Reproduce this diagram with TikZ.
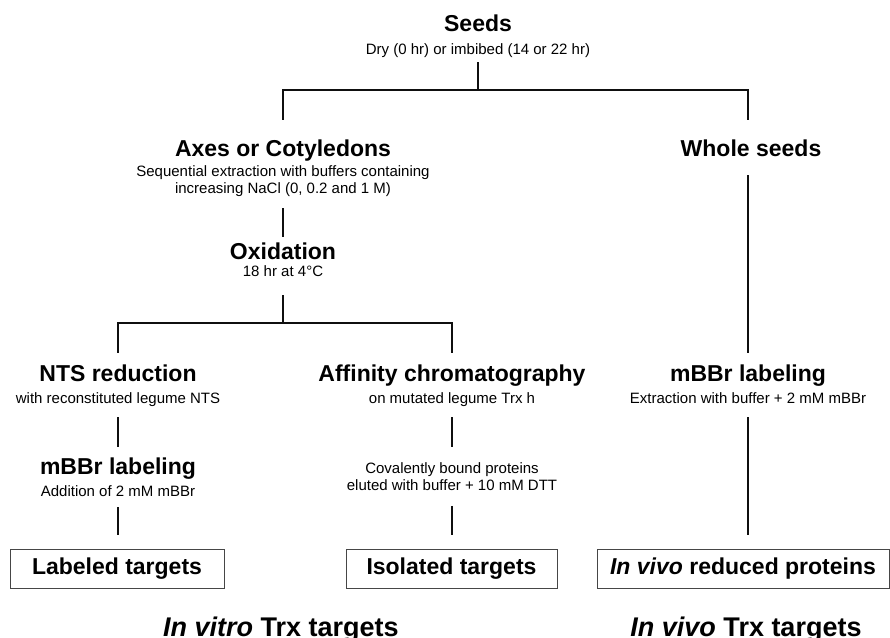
\documentclass[tikz,border=0pt]{standalone}
\usepackage{fontspec}
\setmainfont{Liberation Sans}
\usepackage{tikz}
\usetikzlibrary{positioning, calc}
\definecolor{LinkBlack} {RGB}{15,  15,  15}
\definecolor{BoxGray}   {RGB}{70,  70,  70}

\begin{document}
\begin{tikzpicture}[
  x=1pt, y=-1pt,
  head/.style = {
    font=\fontsize{23}{27}\selectfont\bfseries,
    inner sep=0pt, anchor=base,
    text height=17pt, text depth=5pt
  },
  note/.style = {
    font=\fontsize{15}{17}\selectfont,
    inner sep=0pt, anchor=base,
    text height=11pt, text depth=3.5pt
  },
  notes/.style = {
    font=\fontsize{15}{17}\selectfont,
    inner sep=0pt, anchor=north, align=center
  },
  target/.style = {
    rectangle, draw=BoxGray, line width=1pt,
    minimum height=39pt, inner sep=0pt,
    font=\fontsize{23}{27}\selectfont\bfseries
  },
  group/.style = {
    font=\fontsize{27}{31}\selectfont\bfseries,
    inner sep=0pt, anchor=base
  },
  link/.style = {line width=1.8pt, color=LinkBlack}
]
\useasboundingbox (0,0) rectangle (890,637);

% Seeds
\node[head] (seeds) at (478,31) {Seeds};
\node[note] (seedsnote) at (478,54) {Dry (0 hr) or imbibed (14 or 22 hr)};
\coordinate (split1) at (478,90);

\draw[link, shorten <=4.5pt] (seedsnote.south) -- (split1);
\draw[link, shorten >=19pt] (split1) -| (283,139);
\draw[link, shorten >=19pt] (split1) -| (748,139);

% Axes or Cotyledons
\node[head] (axes) at (283,156) {Axes or Cotyledons};
\node[notes] (extract) at (283,165)
  {Sequential extraction with buffers containing\\increasing NaCl (0, 0.2 and 1 M)};

% Whole seeds
\node[head] (whole) at (751,156) {Whole seeds};

% Oxidation
\node[head] (oxid) at (283,259) {Oxidation};
\node[note] (oxidnote) at (283,276) {18 hr at 4°C};
\coordinate (split2) at (283,323);

\draw[link, shorten <=12pt, shorten >=5pt] (extract.south) -- (oxid.north);
\draw[link, shorten <=15.5pt] (oxidnote.south) -- (split2);

% NTS branch
\node[head] (nts) at (118,381) {NTS reduction};
\node[note] (ntsnote) at (118,403) {with reconstituted legume NTS};
\node[head] (mbbrvitro) at (118,474.5) {mBBr labeling};
\node[note] (vitronote) at (118,496) {Addition of 2 mM mBBr};

% Affinity branch
\node[head] (affin) at (452,381) {Affinity chromatography};
\node[note] (affinnote) at (452,403) {on mutated legume Trx h};
\node[notes] (elute) at (452,462)
  {Covalently bound proteins\\eluted with buffer + 10 mM DTT};

% In vivo branch
\node[head] (mbbrvivo) at (748,381) {mBBr labeling};
\node[note] (vivonote) at (748,403) {Extraction with buffer + 2 mM mBBr};

\draw[link, shorten >=11pt] (split2) -| (nts.north);
\draw[link, shorten >=11pt] (split2) -| (affin.north);
\draw[link, shorten <=14pt, shorten >=11pt] (mbbrvivo.north |- whole.south) -- (mbbrvivo.north);

\draw[link, shorten <=10.5pt, shorten >=10.5pt] (ntsnote.south) -- (mbbrvitro.north);
\draw[link, shorten <=10.5pt, shorten >=15pt] (affinnote.south) -- (elute.north);

% Targets
\node[target, minimum width=214pt] (labeled) at (117,568.5) {Labeled targets};
\node[target, minimum width=211pt] (isolated) at (451.5,568.5) {Isolated targets};
\node[target, minimum width=292pt] (reduced) at (743,568.5)
  {\textit{In vivo} reduced proteins};

\draw[link, shorten <=7.5pt, shorten >=14pt] (vitronote.south) -- (vitronote.south |- labeled.north);
\draw[link, shorten <=15.5pt, shorten >=14pt] (elute.south) -- (elute.south |- isolated.north);
\draw[link, shorten <=10.5pt, shorten >=14pt] (vivonote.south) -- (vivonote.south |- reduced.north);

% Groups
\node[group] (vitro) at (281,636.5) {\textit{In vitro} Trx targets};
\node[group] (vivo) at (746,636.5) {\textit{In vivo} Trx targets};

\end{tikzpicture}
\end{document}
